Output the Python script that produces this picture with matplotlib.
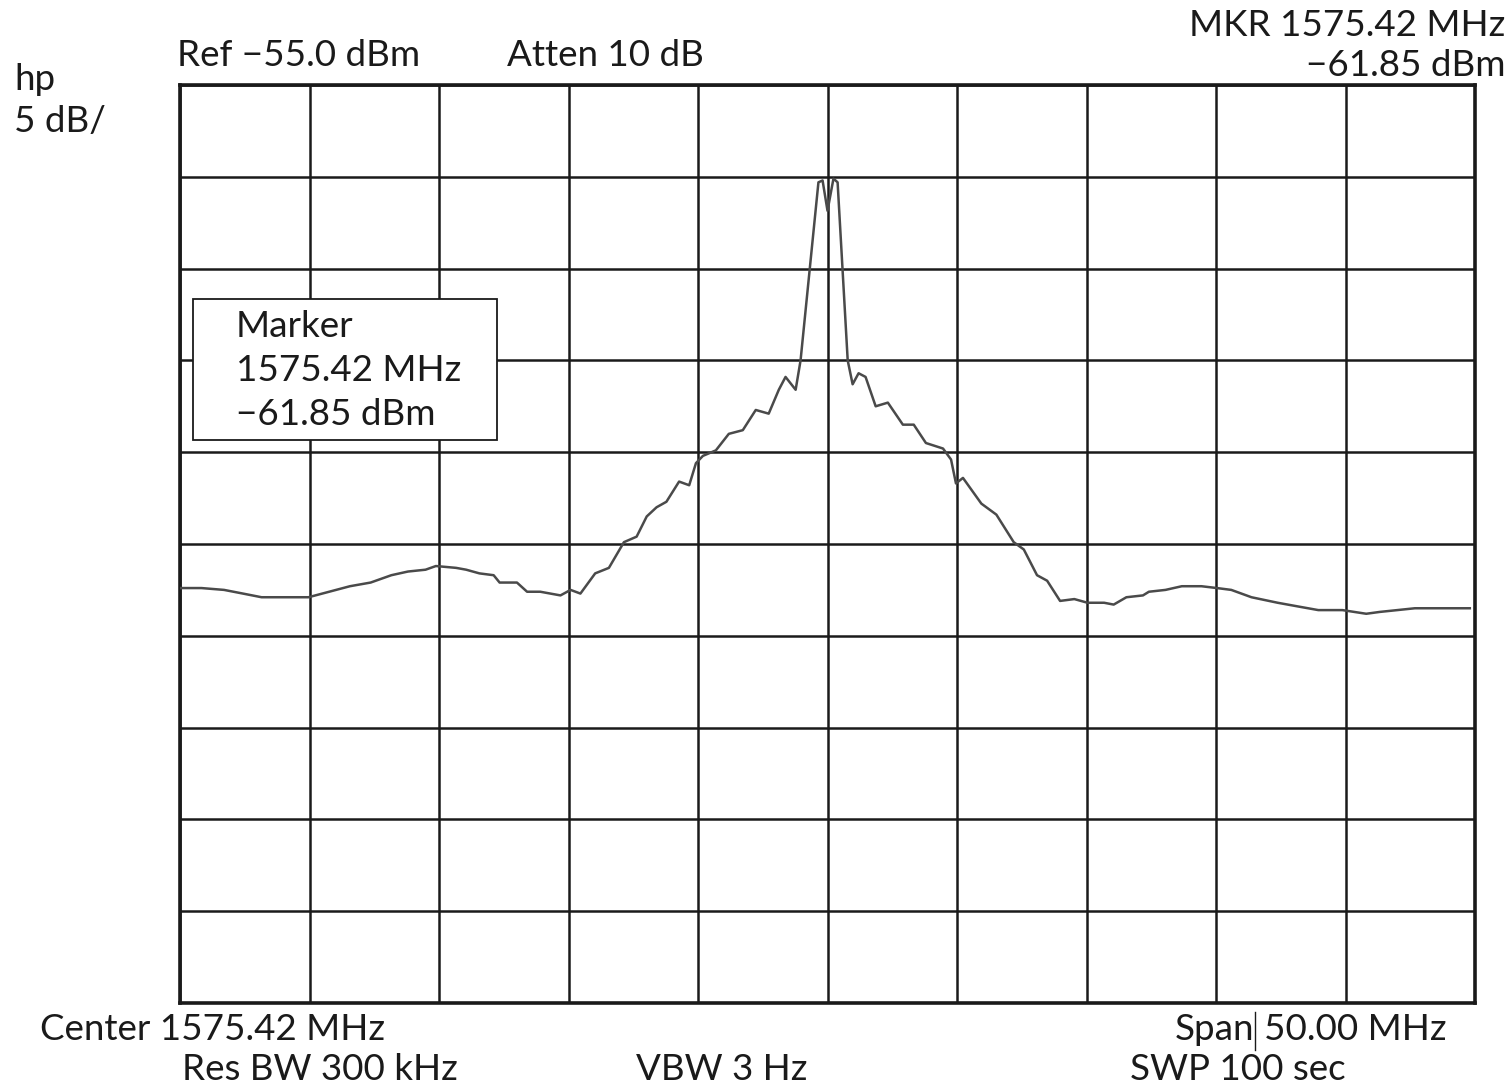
import matplotlib
matplotlib.use("Agg")
import matplotlib.pyplot as plt
from matplotlib.patches import Rectangle
from matplotlib.lines import Line2D

# spectrum analyzer trace, frequency offset from center (MHz) and level (dBm)
freq_offset = [-25.0, -24.17, -23.30, -22.57, -21.85, -21.01, -20.04, -19.24, -18.44,
               -17.64, -16.84, -16.2, -15.52, -15.12, -14.34, -13.95, -13.44, -12.89,
               -12.66, -11.99, -11.60, -11.09, -10.31, -9.92, -9.54, -8.97, -8.44,
               -7.86, -7.37, -6.98, -6.60, -6.22, -5.73, -5.34, -5.08, -4.81, -4.31,
               -3.81, -3.27, -2.77, -2.27, -1.88, -1.62, -1.23, -1.04, -0.35, -0.19,
               0.0, 0.23, 0.39, 0.78, 0.97, 1.20, 1.47, 1.86, 2.33, 2.91, 3.33, 3.80,
               4.46, 4.77, 4.96, 5.23, 5.94, 6.52, 7.19, 7.58, 8.09, 8.48, 8.98, 9.53,
               10.04, 10.68, 11.05, 11.54, 12.18, 12.41, 13.05, 13.68, 14.44, 15.04,
               15.59, 16.37, 17.38, 18.16, 18.95, 19.88, 20.8, 21.32, 22.68, 24.0, 24.8]
level_dbm = [-82.4, -82.4, -82.5, -82.7, -82.9, -82.9, -82.9, -82.6, -82.3,
             -82.1, -81.7, -81.5, -81.4, -81.2, -81.3, -81.4, -81.6, -81.7,
             -82.1, -82.1, -82.6, -82.6, -82.8, -82.5, -82.7, -81.6, -81.3,
             -79.9, -79.6, -78.5, -78.0, -77.7, -76.6, -76.8, -75.6, -75.2, -74.9,
             -74.0, -73.8, -72.7, -72.9, -71.6, -70.9, -71.6, -70.0, -60.3, -60.2,
             -61.85, -60.1, -60.3, -70.0, -71.3, -70.7, -70.9, -72.5, -72.3, -73.5, -73.5, -74.5,
             -74.8, -75.4, -76.7, -76.4, -77.8, -78.4, -79.9, -80.3, -81.7, -82.0, -83.1, -83.0,
             -83.2, -83.2, -83.3, -82.9, -82.8, -82.6, -82.5, -82.3, -82.3, -82.4,
             -82.5, -82.9, -83.2, -83.4, -83.6, -83.6, -83.8, -83.7, -83.5, -83.5, -83.5]

center_mhz = 1575.42
span_mhz = 50.0
ref_dbm = -55.0
db_per_div = 5.0

header_left = ["Ref \u221255.0 dBm", "Atten 10 dB"]
marker_lines = ["MKR 1575.42 MHz", "\u221261.85 dBm"]
box_lines = ["Marker", "1575.42 MHz", "\u221261.85 dBm"]

plt.rcParams['font.family'] = ['Lato', 'DejaVu Sans']
fs = 26.5

fig = plt.figure(figsize=(15.12, 10.88), dpi=100)
W, H = 1512.0, 1088.0
ax = fig.add_axes([180 / W, 1 - 1003 / H, 1295 / W, 918 / H])

freqs = [center_mhz + f for f in freq_offset]
ax.plot(freqs, level_dbm, color='#4a4a4a', lw=1.8, zorder=3)

x0 = center_mhz - span_mhz / 2
ax.set_xlim(x0, x0 + span_mhz)
ax.set_ylim(ref_dbm - 10 * db_per_div, ref_dbm)
ax.set_xticks([x0 + i * span_mhz / 10 for i in range(11)])
ax.set_yticks([ref_dbm - i * db_per_div for i in range(11)])
ax.tick_params(length=0, labelbottom=False, labelleft=False)
ax.grid(True, color='#1a1a1a', lw=1.8)
ax.set_axisbelow(True)
for s in ax.spines.values():
    s.set_linewidth(2.6)
    s.set_color('#1a1a1a')

# marker readout box
ax.add_patch(Rectangle((0.010, 0.613), 0.235, 0.154, transform=ax.transAxes,
                       facecolor='white', edgecolor='#1a1a1a', lw=1.3, zorder=4))
for i, t in enumerate(box_lines):
    ax.text(0.043, 0.737 - i * 0.048, t, transform=ax.transAxes, fontsize=fs,
            va='center', ha='left', color='#1a1a1a', zorder=5)

def ftext(x, y, s, ha='left'):
    fig.text(x / W, 1 - y / H, s, fontsize=fs, ha=ha, va='center', color='#1a1a1a')

ftext(14, 80, "hp")
ftext(14, 122, "5 dB/")
ftext(177, 55, header_left[0])
ftext(507, 55, header_left[1])
ftext(1505, 25, marker_lines[0], ha='right')
ftext(1505, 65, marker_lines[1], ha='right')
ftext(40, 1030, "Center 1575.42 MHz")
ftext(182, 1070, "Res BW 300 kHz")
ftext(636, 1070, "VBW 3 Hz")
ftext(1175, 1030, "Span")
ftext(1447, 1030, "50.00 MHz", ha='right')
ftext(1130, 1070, "SWP 100 sec")

# thin stray bar after "Span"
fig.add_artist(Line2D([1255 / W, 1255 / W], [1 - 1012 / H, 1 - 1050 / H],
                      color='#1a1a1a', lw=1.0))

fig.savefig("out.png", dpi=100, facecolor='white')
